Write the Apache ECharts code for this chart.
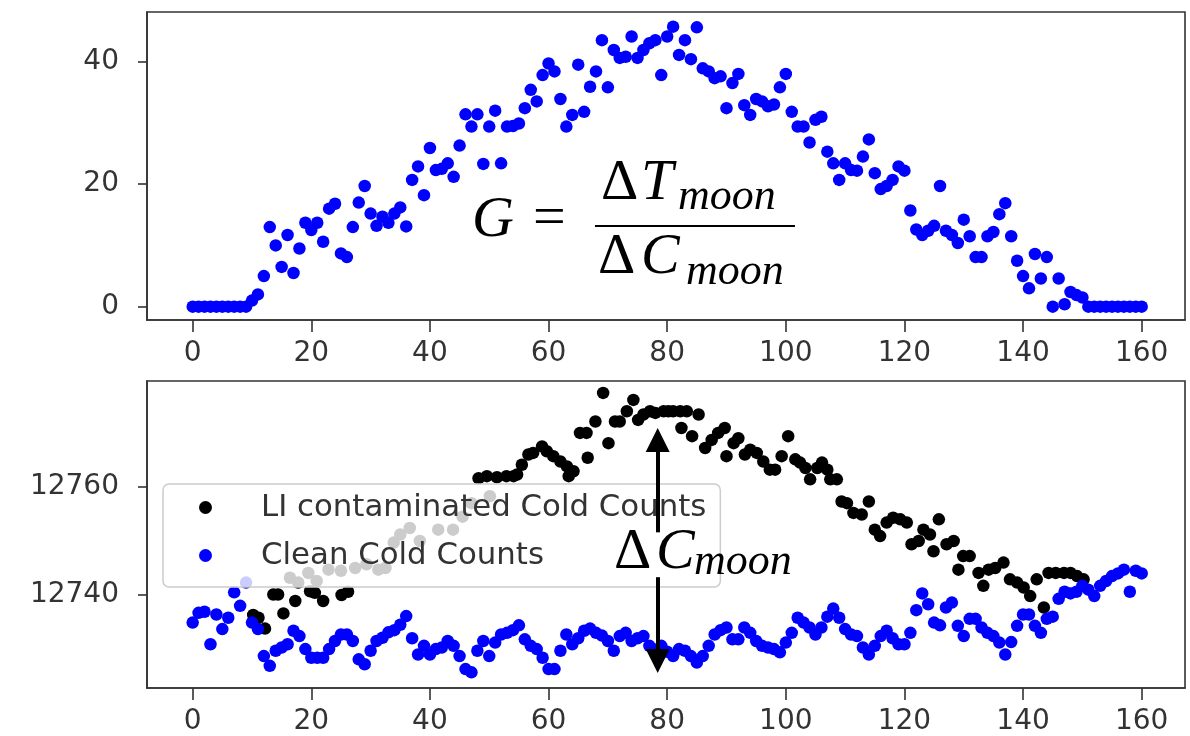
<!DOCTYPE html>
<html>
<head>
<meta charset="utf-8">
<script src="https://cdn.jsdelivr.net/npm/echarts@6/dist/echarts.min.js"></script>
<style>
  html, body { margin: 0; padding: 0; background: #fff; }
  #chart { width: 1190px; height: 736px; }
</style>
</head>
<body>
<div id="chart"></div>
<script>
// tick labels
const xTicks = [0, 20, 40, 60, 80, 100, 120, 140, 160];
const gainTicks = [0, 20, 40];
const countTicks = [12740, 12760];

// top panel: one value per sample (x = sample index)
const gainValues = [
  0, 0, 0, 0, 0, 0, 0, 0, 0, 0,
  1, 2, 5, 13, 10, 6.5, 11.7, 5.5, 9.5, 13.7,
  12.5, 13.7, 10.6, 16, 16.8, 8.7, 8.1, 13, 17, 19.7,
  15.2, 13.2, 14.7, 13.7, 15.2, 16.2, 13.1, 20.7, 22.9, 18.2,
  25.9, 22.3, 22.5, 23.4, 21.2, 26.3, 31.4, 29.4, 31.4, 23.3,
  29.4, 32, 23.4, 29.4, 29.5, 29.9, 32.4, 35.4, 33.5, 37.8,
  39.7, 38.4, 33.9, 29.4, 31.3, 39.5, 31.8, 35.9, 38.4, 43.5,
  35.8, 41.9, 40.6, 40.8, 44.1, 40.6, 41.9, 43, 43.5, 37.8,
  44.1, 45.7, 41.1, 43.5, 40.4, 45.6, 38.9, 38.4, 37.3, 37.6,
  32.4, 36.5, 38, 32.9, 31.3, 33.9, 33.5, 32.7, 33, 35.8,
  38, 31.8, 29.4, 29.4, 26.8, 30.5, 31, 25.3, 23.4, 20.7,
  23.4, 22.3, 22.2, 24.5, 27.3, 21.8, 19.2, 19.7, 20.7, 22.9,
  22.2, 15.7, 12.6, 11.7, 12.4, 13.2, 19.7, 12.4, 11.7, 10.4,
  14.2, 11.5, 8.1, 8.1, 11.5, 12.2, 15.1, 16.9, 11.5, 7.5,
  5, 3, 8.6, 4.6, 8.1, 0, 4.6, 0.4, 2.4, 1.9,
  1.5, 0, 0, 0, 0, 0, 0, 0, 0, 0, 0
];

// bottom panel, clean cold counts (x = sample index)
const cleanCounts = [
  12734.9, 12736.7, 12736.9, 12730.9, 12736.4, 12733.7, 12735.8, 12740.5, 12738, 12742.3,
  12734.9, 12733.7, 12728.7, 12726.9, 12729.7, 12730.3, 12730.9, 12733.4, 12732.4, 12730,
  12728.4, 12728.4, 12728.4, 12730, 12731.5, 12732.7, 12732.7, 12731.5, 12728.1, 12727.2,
  12729.7, 12731.5, 12732.1, 12733.1, 12733.5, 12734.5, 12736.1, 12732, 12729, 12730.6,
  12729, 12730, 12730.3, 12731.5, 12730.6, 12728.7, 12726.3, 12725.7, 12729.7, 12731.5,
  12728.7, 12731.2, 12732.7, 12733, 12733.5, 12734.4, 12731.8, 12730.6, 12730, 12728.4,
  12726.3, 12726.3, 12729.7, 12732.7, 12730.9, 12732, 12733.4, 12733.8, 12733, 12732.5,
  12731.5, 12729.7, 12732.4, 12733, 12731.5, 12732, 12732.4, 12730.6, 12729.7, 12730.6,
  12729.5, 12728.7, 12730, 12729.7, 12728.7, 12727.5, 12728.7, 12730.6, 12732.7, 12733.5,
  12734, 12731.8, 12731.8, 12734, 12733, 12731.5, 12730.6, 12730.3, 12730, 12729.4,
  12731.2, 12733, 12735.8, 12734.9, 12734, 12732.7, 12734, 12736, 12737.5, 12735.8,
  12733.7, 12732.7, 12732.4, 12730.3, 12729, 12730.6, 12732.4, 12733.4, 12732, 12730.9,
  12730.9, 12733, 12737.2, 12740.3, 12738.3, 12734.9, 12734.4, 12737.7, 12738.6, 12734.3,
  12732.4, 12735.6, 12735.6, 12734, 12733, 12732.4, 12731.2, 12729, 12731.3, 12734.3,
  12736.4, 12736.4, 12734.3, 12733, 12735.6, 12736, 12739.3, 12740.6, 12740.3, 12740.6,
  12741.7, 12741, 12739.8, 12741.7, 12742.6, 12743.5, 12744, 12744.7, 12740.6, 12744.5, 12744
];

// bottom panel, LI contaminated cold counts (read as x / y pairs)
const contaminatedX = [
  10.2, 11.1, 12.2, 13.6, 14.4, 15.3, 16.4, 17.3, 17.8, 19.5,
  19.8, 20.6, 20.9, 22.0, 22.9, 25.0, 25.1, 26.2, 27.4, 29.3,
  31.3, 32.5, 33.9, 35.0, 36.6, 38.3, 41.4, 43.9, 45.5, 47.0,
  48.2, 49.6, 50.1, 51.3, 52.9, 54.1, 54.7, 55.5, 56.6, 57.4,
  58.9, 59.7, 60.8, 62.0, 63.1, 63.4, 64.2, 65.3, 66.4, 66.6,
  67.9, 69.2, 70.1, 71.2, 72.0, 73.2, 74.3, 75.1, 76.0, 77.1,
  78.0, 79.4, 80.2, 81.0, 82.2, 82.4, 83.3, 84.2, 85.3, 86.4,
  87.5, 88.6, 89.7, 90.0, 91.2, 92.0, 93.1, 94.0, 95.1, 96.2,
  97.3, 98.2, 99.3, 100.4, 101.6, 102.4, 103.3, 104.1, 105.3, 106.1,
  107.0, 107.5, 108.6, 109.4, 110.3, 111.4, 112.8, 114.0, 115.0, 115.9,
  117.0, 118.1, 119.3, 120.4, 121.2, 122.4, 123.2, 124.3, 124.9, 125.8,
  127.1, 128.3, 129.1, 129.9, 131.0, 132.5, 133.3, 134.2, 135.3, 136.7,
  137.8, 139.0, 140.1, 141.2, 142.3, 143.5, 144.3, 145.5, 146.9, 148.0,
  149.1, 150.2
];
const contaminatedY = [
  12736.3, 12735.8, 12733.8, 12740.1, 12740.1, 12736.6, 12743.2, 12738.9, 12742.3, 12744.1,
  12740.7, 12740.4, 12742.6, 12738.9, 12744.7, 12744.5, 12740.0, 12740.6, 12745.0, 12745.7,
  12744.7, 12745.0, 12749.7, 12751.2, 12752.4, 12750.0, 12752.1, 12752.1, 12754.5, 12757.0,
  12761.6, 12762.0, 12758.3, 12761.8, 12762.0, 12762.0, 12762.3, 12764.1, 12766.0, 12766.3,
  12767.5, 12766.6, 12765.7, 12764.7, 12763.8, 12762.0, 12762.9, 12770.0, 12770.0, 12765.4,
  12772.1, 12777.4, 12768.1, 12772.1, 12772.1, 12774.0, 12776.1, 12772.4, 12773.4, 12774.0,
  12773.7, 12774.0, 12774.0, 12774.0, 12774.0, 12770.9, 12774.0, 12769.4, 12773.4, 12767.2,
  12768.7, 12770.0, 12770.9, 12765.7, 12768.1, 12769.0, 12766.0, 12766.9, 12766.3, 12764.7,
  12763.2, 12763.2, 12765.7, 12769.4, 12765.1, 12764.5, 12763.5, 12761.4, 12763.5, 12764.5,
  12763.2, 12761.4, 12761.4, 12757.3, 12757.0, 12755.2, 12754.9, 12757.3, 12752.1, 12750.9,
  12753.4, 12754.3, 12754.0, 12753.4, 12749.4, 12750.0, 12752.1, 12751.2, 12748.1, 12754.0,
  12749.4, 12750.0, 12744.7, 12747.2, 12747.2, 12744.1, 12741.7, 12744.7, 12745.0, 12746.0,
  12742.9, 12742.3, 12741.4, 12739.8, 12742.9, 12737.7, 12744.1, 12744.1, 12744.1, 12744.1,
  12743.5, 12742.9
];

const chart = echarts.init(document.getElementById('chart'), null, { renderer: 'canvas' });

const tickFont = { fontFamily: 'DejaVu Sans', fontSize: 28, color: '#333' };
const frameColor = '#333';

function xAxisFor(gridIndex) {
  return {
    type: 'value', gridIndex: gridIndex, min: -7.7, max: 167.3,
    axisLine: { show: true, onZero: false, lineStyle: { color: frameColor, width: 1.6 } },
    axisTick: { show: true, length: 12, lineStyle: { color: frameColor, width: 1.6 }, customValues: xTicks },
    axisLabel: Object.assign({ margin: 20, customValues: xTicks, formatter: v => String(v) }, tickFont),
    splitLine: { show: false }
  };
}

function yAxisFor(gridIndex, min, max, ticks) {
  return {
    type: 'value', gridIndex: gridIndex, min: min, max: max,
    axisLine: { show: true, onZero: false, lineStyle: { color: frameColor, width: 1.6 } },
    axisTick: { show: true, length: 9, lineStyle: { color: frameColor, width: 1.6 }, customValues: ticks },
    axisLabel: Object.assign({ margin: 28, customValues: ticks, formatter: v => String(v) }, tickFont),
    splitLine: { show: false }
  };
}

function serifText(text, x, y, size, italic) {
  const font = (italic ? 'italic ' : '') + size + 'px "Liberation Serif", serif';
  return {
    type: 'text', silent: true, z: 100,
    style: {
      text: text, x: x, y: y, font: font, fill: '#000',
      align: 'left', verticalAlign: 'middle',
      textAlign: 'left', textVerticalAlign: 'middle'
    }
  };
}

const arrowX = 78.4;

chart.setOption({
  animation: false,
  backgroundColor: '#fff',
  grid: [
    { left: 147, top: 12, width: 1038, height: 308, show: true, borderColor: frameColor, borderWidth: 1.6 },
    { left: 147, top: 381, width: 1038, height: 308, show: true, borderColor: frameColor, borderWidth: 1.6 }
  ],
  xAxis: [xAxisFor(0), xAxisFor(1)],
  yAxis: [
    yAxisFor(0, -2.17, 48.1, gainTicks),
    yAxisFor(1, 12722.8, 12779.6, countTicks)
  ],
  legend: {
    data: ['LI contaminated Cold Counts', 'Clean Cold Counts'],
    orient: 'vertical',
    left: 163, top: 484,
    icon: 'circle',
    itemWidth: 13, itemHeight: 13,
    itemGap: 17,
    padding: [8, 14, 16, 36],
    backgroundColor: 'rgba(255,255,255,0.8)',
    borderColor: '#cccccc', borderWidth: 1.5, borderRadius: 6,
    textStyle: { fontFamily: 'DejaVu Sans', fontSize: 30.8, color: '#333', padding: [0, 0, 0, 44] },
    selectedMode: false
  },
  series: [
    {
      name: 'gain', type: 'scatter', xAxisIndex: 0, yAxisIndex: 0,
      symbolSize: 12.5, itemStyle: { color: '#0000ff', opacity: 1 },
      data: gainValues.map((v, i) => [i, v])
    },
    {
      name: 'LI contaminated Cold Counts', type: 'scatter', xAxisIndex: 1, yAxisIndex: 1,
      symbolSize: 12.5, itemStyle: { color: '#000000', opacity: 1 },
      data: contaminatedX.map((x, i) => [x, contaminatedY[i]])
    },
    {
      name: 'Clean Cold Counts', type: 'scatter', xAxisIndex: 1, yAxisIndex: 1,
      symbolSize: 12.5, itemStyle: { color: '#0000ff', opacity: 1 },
      data: cleanCounts.map((v, i) => [i, v]),
      markLine: {
        silent: true, animation: false,
        symbol: ['none', 'triangle'], symbolSize: 24,
        label: { show: false },
        lineStyle: { color: '#000', width: 4, type: 'solid', opacity: 1 },
        emphasis: { disabled: true },
        data: [
          [{ coord: [arrowX, 12751.6] }, { coord: [arrowX, 12768.7] }],
          [{ coord: [arrowX, 12743.3] }, { coord: [arrowX, 12727.8] }]
        ]
      }
    }
  ],
  graphic: [
    // G = dT_moon / dC_moon
    serifText('G', 472, 221, 58, true),
    serifText('=', 533, 220, 58, false),
    { type: 'line', silent: true, z: 100, shape: { x1: 595, y1: 226, x2: 795, y2: 226 }, style: { stroke: '#000', lineWidth: 2.2 } },
    serifText('\u0394', 601, 184, 58, false),
    serifText('T', 641, 184, 58, true),
    serifText('moon', 678, 197, 44, true),
    serifText('\u0394', 598, 258, 58, false),
    serifText('C', 641, 258, 58, true),
    serifText('moon', 686, 272, 44, true),
    // bottom annotation
    serifText('\u0394', 614, 553, 58, false),
    serifText('C', 656, 553, 58, true),
    serifText('moon', 694, 562, 44, true)
  ]
});
</script>
</body>
</html>
